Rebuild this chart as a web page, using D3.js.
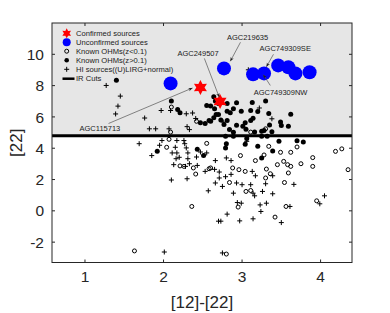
<!DOCTYPE html>
<html><head><meta charset="utf-8">
<script src="https://cdn.jsdelivr.net/npm/d3@7"></script>
<style>body{margin:0;background:#fff} svg{display:block;font-family:"Liberation Sans",Arial,Helvetica,sans-serif}</style>
</head><body><svg id="c" width="390" height="313"></svg>
<script>
const xTicks=[1,2,3,4];
const yTicks=[-2,0,2,4,6,8,10];
const xDomain=[0.58,4.4];
const yDomain=[-3.3,12];
const irCut=4.8;
const xLabel="[12]-[22]";
const yLabel="[22]";

const confirmed=[[2.47,7.88],[2.72,6.99]];
const unconfirmed=[[2.09,8.14],[2.77,9.10],[3.14,8.72],[3.28,8.78],[3.46,9.29],[3.59,9.17],[3.68,8.78],[3.86,8.85]];

const ohmLowZ=[[2.10,6.63],[2.09,5.03],[2.42,5.72],[2.07,4.57],[2.55,4.31],[2.04,4.06],[2.21,2.87],[2.26,2.84],[2.38,2.74],[2.41,2.35],[2.58,2.69],[2.36,0.28],[1.63,-2.56],[2.80,-2.76],[3.30,2.10],[3.36,2.37],[3.59,2.42],[2.84,1.81],[3.54,1.81],[3.05,1.24],[3.11,1.30],[2.95,0.24],[3.56,0.28],[3.95,0.64],[3.42,-0.40],[4.35,2.63],[3.11,5.03],[3.30,5.24],[3.34,4.12],[3.70,4.08],[2.98,3.53],[3.17,3.21],[3.28,3.57],[3.49,3.74],[3.62,3.74],[3.90,3.40],[4.19,3.80],[4.27,3.96],[2.60,2.74],[2.88,2.74],[2.96,2.63],[3.04,2.52],[3.31,2.67],[3.45,2.95],[3.53,3.16],[3.58,2.95],[3.62,2.84],[3.75,3.01],[3.90,2.84]];

const ohmHighZ=[[1.40,8.35],[2.10,7.01],[2.18,6.47],[2.21,6.26],[2.47,5.62],[2.53,5.58],[2.58,5.77],[2.64,5.94],[2.67,6.15],[2.65,6.52],[2.60,6.69],[2.70,6.86],[2.64,7.29],[2.66,7.02],[2.55,6.73],[2.81,6.86],[2.89,6.52],[2.99,6.37],[2.93,6.90],[3.13,6.92],[3.11,6.41],[3.20,6.35],[3.30,7.01],[3.34,6.22],[3.62,6.17],[2.60,5.72],[2.70,6.15],[2.73,5.80],[2.81,5.77],[2.77,5.51],[2.93,5.46],[3.01,5.40],[3.04,5.62],[3.11,5.77],[3.14,5.91],[3.35,5.48],[3.49,5.67],[3.50,5.45],[3.59,5.40],[2.84,5.19],[2.89,5.02],[3.05,5.22],[3.16,5.03],[3.25,5.08],[3.28,5.14],[3.38,5.05],[2.81,6.37],[2.85,6.26],[1.92,3.80],[2.43,3.93],[2.51,3.54],[2.79,4.76],[2.89,4.76],[3.06,4.62],[3.25,4.76],[3.32,4.76],[2.79,4.02],[2.80,4.28],[3.04,4.26],[3.20,4.12],[3.39,3.83],[3.47,4.44],[3.70,4.47],[3.78,4.39],[3.25,3.38]];

const hiSources=[[1.27,8.01],[1.45,7.33],[1.42,6.69],[1.39,6.19],[1.76,5.93],[1.82,5.24],[1.90,5.24],[2.07,5.24],[1.97,6.41],[2.09,6.41],[2.29,6.20],[2.37,6.25],[2.41,5.90],[2.30,5.38],[2.33,5.19],[3.08,9.01],[3.22,6.57],[2.76,5.67],[3.38,5.88],
[1.69,4.29],[1.98,4.49],[2.17,4.49],[2.26,4.49],[2.27,4.29],[1.95,4.19],[1.85,3.53],[2.15,4.06],[2.29,4.02],[2.47,3.76],[2.55,3.70],[2.11,3.70],[2.17,3.70],[2.31,3.70],[2.16,3.33],[2.20,3.42],[2.31,3.33],[2.42,3.44],[2.13,2.95],[2.28,2.84],[2.33,3.01],[2.43,2.90],[2.53,2.52],[2.65,2.65],[2.66,3.21],[2.80,3.38],[2.10,1.97],[2.30,2.05],[2.71,2.48],[2.71,2.10],[2.79,2.18],[2.66,1.78],[2.75,1.56],[2.57,1.28],[2.81,-0.21],[2.70,-0.66],[2.73,-0.66],[2.01,-2.63],[2.75,-2.69],[2.86,2.33],[3.13,2.52],[3.17,2.24],[3.39,2.24],[2.93,1.78],[3.00,1.67],[3.11,1.67],[3.30,1.73],[3.66,1.69],[2.89,1.13],[3.14,1.13],[3.16,0.96],[3.26,1.24],[3.39,1.09],[2.94,0.53],[2.99,0.49],[3.23,0.38],[3.31,0.49],[3.24,-0.04],[3.61,0.28],[3.99,0.45],[4.05,0.96],[3.50,-0.75],[3.14,-0.51],[2.97,-0.64],[2.86,3.21],[3.06,4.44]];

const legendLabels=["Confirmed sources","Unconfirmed sources","Known OHMs(z<0.1)","Known OHMs(z>0.1)","HI sources((U)LIRG+normal)","IR Cuts"];

const annotations=[
 {label:"AGC219635",tx:3.07,ty:11.09,x1:2.98,y1:10.77,x2:2.85,y2:9.55},
 {label:"AGC749309SE",tx:3.55,ty:10.38,x1:3.40,y1:10.0,x2:3.31,y2:9.20},
 {label:"AGC249507",tx:2.44,ty:10.06,x1:2.52,y1:9.74,x2:2.71,y2:7.25},
 {label:"AGC749309NW",tx:3.49,ty:7.56,x1:3.36,y1:8.01,x2:3.27,y2:8.70},
 {label:"AGC115713",tx:1.19,ty:5.26,x1:1.30,y1:5.58,x2:2.37,y2:7.85}
];

const W=390,H=313, L=52,R=352,T=23,B=262.5;
const svg=d3.select("#c");
const x=d3.scaleLinear().domain(xDomain).range([L,R]);
const y=d3.scaleLinear().domain(yDomain).range([B,T]);
const axisCol="#262626";

svg.append("rect").attr("x",L).attr("y",y(yDomain[1])).attr("width",R-L).attr("height",y(irCut)-y(yDomain[1])).attr("fill","#e6e6e6");

const g=svg.append("g");
function plus(sel,s){sel.append("path").attr("d",`M${-s},0H${s}M0,${-s}V${s}`).attr("stroke","#000").attr("stroke-width",1).attr("fill","none");}
g.selectAll(".hi").data(hiSources).join("g").attr("transform",d=>`translate(${x(d[0])},${y(d[1])})`).call(plus,2.5);
g.selectAll(".oc").data(ohmLowZ).join("circle").attr("cx",d=>x(d[0])).attr("cy",d=>y(d[1])).attr("r",2).attr("fill","none").attr("stroke","#000").attr("stroke-width",1);
g.selectAll(".fd").data(ohmHighZ).join("circle").attr("cx",d=>x(d[0])).attr("cy",d=>y(d[1])).attr("r",2.5).attr("fill","#000");

svg.append("line").attr("x1",L).attr("x2",R).attr("y1",y(irCut)).attr("y2",y(irCut)).attr("stroke","#000").attr("stroke-width",3);

svg.selectAll(".bc").data(unconfirmed).join("circle").attr("cx",d=>x(d[0])).attr("cy",d=>y(d[1])).attr("r",7).attr("fill","#0000ff");
function hexagram(Ro){const ri=Ro*0.55;const p=[];for(let i=0;i<12;i++){const a=(-90+i*30)*Math.PI/180;const r=i%2?ri:Ro;p.push([r*Math.cos(a),r*Math.sin(a)]);}return "M"+p.map(q=>q.join(",")).join("L")+"Z";}
svg.selectAll(".st").data(confirmed).join("path").attr("d",hexagram(7.5)).attr("transform",d=>`translate(${x(d[0])},${y(d[1])})`).attr("fill","#ff0000");

const defs=svg.append("defs");
defs.append("marker").attr("id","ah").attr("viewBox","0 0 10 10").attr("refX",10).attr("refY",5).attr("markerWidth",6).attr("markerHeight",6).attr("orient","auto")
 .append("path").attr("d","M0,1L10,5L0,9L3,5Z").attr("fill","#222");
const an=svg.append("g");
an.selectAll("line").data(annotations).join("line").attr("x1",d=>x(d.x1)).attr("y1",d=>y(d.y1)).attr("x2",d=>x(d.x2)).attr("y2",d=>y(d.y2)).attr("stroke","#555").attr("stroke-width",0.7).attr("marker-end","url(#ah)");
an.selectAll("text").data(annotations).join("text").attr("x",d=>x(d.tx)).attr("y",d=>y(d.ty)).attr("dy","0.35em").attr("text-anchor","middle").attr("font-size",7.5).attr("fill","#222").text(d=>d.label);

const lg=svg.append("g");
const rows=[33.3,42.3,51.2,60.3,69.3,78.7];
const mx=66.7;
lg.append("path").attr("d",hexagram(5)).attr("transform",`translate(${mx},${rows[0]})`).attr("fill","#ff0000");
lg.append("circle").attr("cx",mx).attr("cy",rows[1]).attr("r",4).attr("fill","#0000ff");
lg.append("circle").attr("cx",mx).attr("cy",rows[2]).attr("r",2).attr("fill","none").attr("stroke","#000");
lg.append("circle").attr("cx",mx).attr("cy",rows[3]).attr("r",2.3).attr("fill","#000");
lg.append("g").attr("transform",`translate(${mx},${rows[4]})`).call(plus,2.5);
lg.append("line").attr("x1",62.5).attr("x2",74.5).attr("y1",rows[5]).attr("y2",rows[5]).attr("stroke","#000").attr("stroke-width",2.5);
lg.selectAll("text").data(legendLabels).join("text").attr("x",76).attr("y",(d,i)=>rows[i]).attr("dy","0.35em").attr("font-size",7.6).attr("fill","#222").text(d=>d);

const ax=svg.append("g");
ax.append("rect").attr("x",L).attr("y",T).attr("width",R-L).attr("height",B-T).attr("fill","none").attr("stroke",axisCol).attr("stroke-width",1);
const tl=3;
xTicks.forEach(v=>{
 ax.append("line").attr("x1",x(v)).attr("x2",x(v)).attr("y1",B).attr("y2",B-tl).attr("stroke",axisCol);
 ax.append("line").attr("x1",x(v)).attr("x2",x(v)).attr("y1",T).attr("y2",T+tl).attr("stroke",axisCol);
});
yTicks.forEach(v=>{
 ax.append("line").attr("x1",L).attr("x2",L+tl).attr("y1",y(v)).attr("y2",y(v)).attr("stroke",axisCol);
 ax.append("line").attr("x1",R).attr("x2",R-tl).attr("y1",y(v)).attr("y2",y(v)).attr("stroke",axisCol);
});
ax.selectAll(".xt").data(xTicks).join("text").attr("x",d=>x(d)).attr("y",B+19).attr("text-anchor","middle").attr("font-size",15.5).attr("fill",axisCol).text(d=>d);
ax.selectAll(".yt").data(yTicks).join("text").attr("x",L-8).attr("y",d=>y(d)).attr("dy","0.36em").attr("text-anchor","end").attr("font-size",15.5).attr("fill",axisCol).text(d=>d);
svg.append("text").attr("x",(L+R)/2).attr("y",B+45).attr("text-anchor","middle").attr("font-size",17).attr("fill",axisCol).text(xLabel);
svg.append("text").attr("transform",`translate(${22},${(T+B)/2}) rotate(-90)`).attr("text-anchor","middle").attr("font-size",17).attr("fill",axisCol).text(yLabel);
</script></body></html>
